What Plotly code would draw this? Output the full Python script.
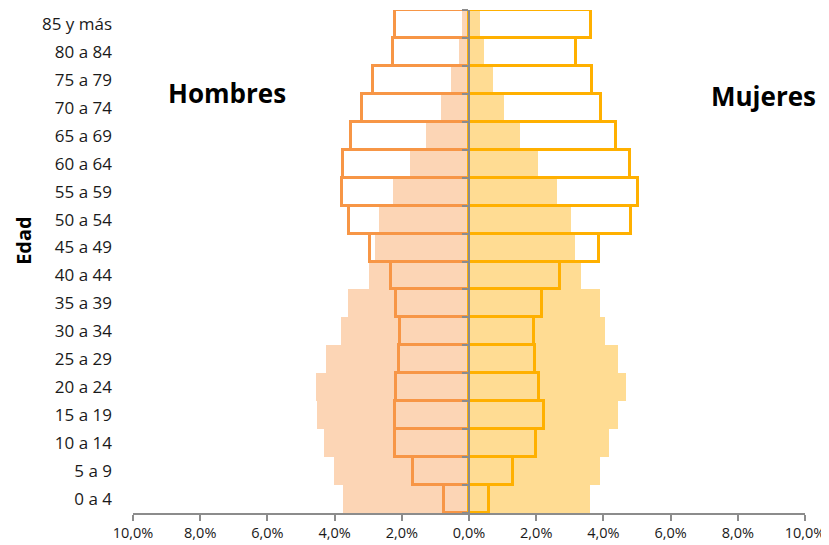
import plotly.graph_objects as go

edades = ["0 a 4", "5 a 9", "10 a 14", "15 a 19", "20 a 24", "25 a 29", "30 a 34",
          "35 a 39", "40 a 44", "45 a 49", "50 a 54", "55 a 59", "60 a 64",
          "65 a 69", "70 a 74", "75 a 79", "80 a 84", "85 y más"]

# Filled bars (earlier year)
hombres_a = [3.74, 4.02, 4.32, 4.51, 4.55, 4.26, 3.82, 3.59, 2.99, 2.81, 2.67, 2.27,
             1.76, 1.28, 0.84, 0.54, 0.30, 0.20]
mujeres_a = [3.61, 3.90, 4.16, 4.44, 4.66, 4.43, 4.04, 3.91, 3.32, 3.15, 3.04, 2.63,
             2.06, 1.52, 1.04, 0.71, 0.45, 0.33]
# Outlined bars (later year)
hombres_b = [0.75, 1.67, 2.20, 2.19, 2.17, 2.07, 2.05, 2.18, 2.33, 2.96, 3.58, 3.77,
             3.74, 3.51, 3.17, 2.86, 2.25, 2.20]
mujeres_b = [0.59, 1.31, 1.98, 2.22, 2.07, 1.96, 1.93, 2.16, 2.71, 3.86, 4.83, 5.02,
             4.79, 4.37, 3.94, 3.67, 3.18, 3.62]

tick_vals = [-10, -8, -6, -4, -2, 0, 2, 4, 6, 8, 10]
tick_text = ["10,0%", "8,0%", "6,0%", "4,0%", "2,0%", "0,0%", "2,0%", "4,0%", "6,0%", "8,0%", "10,0%"]

C_H_FILL = "#FCD5B5"
C_M_FILL = "#FFDC93"
C_H_LINE = "#F79646"
C_M_LINE = "#FFB000"
GRAY = "#8C8C8C"

fig = go.Figure()
fig.add_trace(go.Bar(y=edades, x=[-v for v in hombres_a], orientation="h",
                     marker=dict(color=C_H_FILL, line=dict(width=0)), name="Hombres A"))
fig.add_trace(go.Bar(y=edades, x=mujeres_a, orientation="h",
                     marker=dict(color=C_M_FILL, line=dict(width=0)), name="Mujeres A"))
fig.add_trace(go.Bar(y=edades, x=[-v for v in hombres_b], orientation="h",
                     marker=dict(color="rgba(0,0,0,0)", line=dict(width=3, color=C_H_LINE)),
                     name="Hombres B"))
fig.add_trace(go.Bar(y=edades, x=mujeres_b, orientation="h",
                     marker=dict(color="rgba(0,0,0,0)", line=dict(width=3, color=C_M_LINE)),
                     name="Mujeres B"))

n = len(edades)
fig.update_layout(
    width=821, height=537,
    margin=dict(l=125, r=24, t=2, b=32),
    paper_bgcolor="white", plot_bgcolor="white",
    barmode="overlay", bargap=0,
    showlegend=False,
    font=dict(family="Open Sans, Noto Sans, sans-serif", color="#1a1a1a"),
    xaxis=dict(range=[-10, 10], tickvals=tick_vals, ticktext=tick_text, automargin=False,
               showgrid=False, zeroline=False, showline=True, linecolor=GRAY, linewidth=2,
               ticks="outside", ticklen=6, tickwidth=2, tickcolor=GRAY,
               tickfont=dict(size=14.5, color="#1a1a1a"), fixedrange=True),
    yaxis=dict(type="category", range=[-0.5, n - 0.5], showgrid=False, zeroline=False,
               showline=False, ticks="", tickfont=dict(size=17, color="#1a1a1a"),
               ticklabelstandoff=20, automargin=False),
    yaxis2=dict(overlaying="y", anchor="free", position=0.5, range=[-0.5, n - 0.5],
                showgrid=False, zeroline=False, showline=True, linecolor=GRAY, linewidth=2,
                ticks="outside", ticklen=6, tickwidth=2, tickcolor=GRAY, automargin=False,
                tickvals=[i - 0.5 for i in range(n + 1)], showticklabels=False),
    annotations=[
        dict(text="<b>Hombres</b>", x=-7.2, y=0.835, xref="x", yref="paper",
             xanchor="center", yanchor="middle",
             showarrow=False, font=dict(size=26, color="black")),
        dict(text="<b>Mujeres</b>", x=8.77, y=0.829, xref="x", yref="paper",
             xanchor="center", yanchor="middle",
             showarrow=False, font=dict(size=26, color="black")),
        dict(text="<b>Edad</b>", x=-0.163, y=0.542, xref="paper", yref="paper",
             xanchor="center", yanchor="middle", borderpad=0,
             textangle=-90, showarrow=False, font=dict(size=20, color="black")),
    ],
)
# invisible trace to activate yaxis2
fig.add_trace(go.Scatter(x=[0], y=[0], yaxis="y2", mode="markers",
                         marker=dict(opacity=0), hoverinfo="skip", showlegend=False))

fig.write_html("out.html")
